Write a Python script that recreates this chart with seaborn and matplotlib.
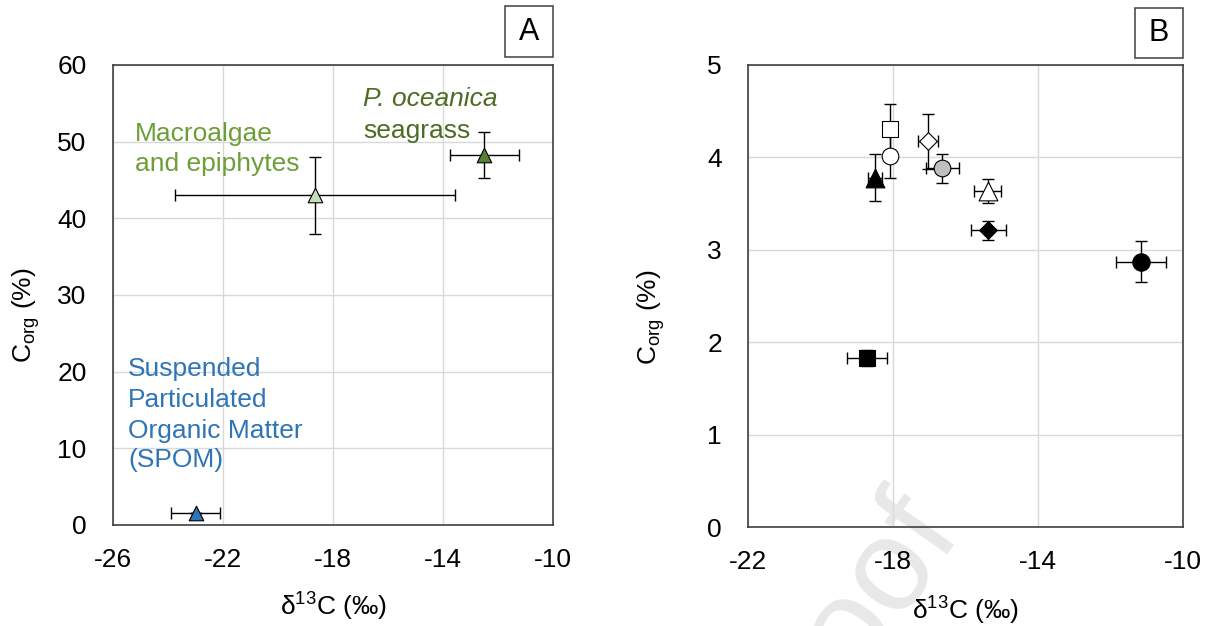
import matplotlib
matplotlib.use("Agg")
import matplotlib.pyplot as plt
from matplotlib.patches import Rectangle
import seaborn as sns
import pandas as pd

# ---------------- data ----------------
# Panel A: sources
a_names = ["SPOM", "Macroalgae and epiphytes", "P. oceanica seagrass"]
a_d13c = [-23.0, -18.65, -12.5]
a_d13c_err = [0.9, 5.1, 1.25]
a_corg = [1.6, 43.0, 48.3]
a_corg_err = [0.0, 5.0, 3.0]
a_colors = ["#2E75B6", "#C5E0B4", "#548235"]

# Panel B: sediment samples
b_d13c = [-18.1, -18.1, -18.5, -17.05, -16.65, -15.4, -15.38, -11.17, -18.73]
b_d13c_err = [0.0, 0.0, 0.2, 0.28, 0.46, 0.38, 0.49, 0.68, 0.55]
b_corg = [4.31, 4.01, 3.78, 4.17, 3.88, 3.63, 3.21, 2.87, 1.83]
b_corg_err = [0.26, 0.24, 0.25, 0.30, 0.16, 0.13, 0.10, 0.22, 0.09]
b_markers = ["s", "o", "^", "D", "o", "^", "D", "o", "s"]
b_faces = ["white", "white", "black", "white", "#BFBFBF", "white", "black", "black", "black"]
b_sizes = [11.5, 12, 13.5, 9.0, 12, 13.5, 9.0, 12.5, 11.5]

a_xticks = [-26, -22, -18, -14, -10]
a_yticks = [0, 10, 20, 30, 40, 50, 60]
b_xticks = [-22, -18, -14, -10]
b_yticks = [0, 1, 2, 3, 4, 5]

# ---------------- style ----------------
sns.set_theme(style="whitegrid")
plt.rcParams["font.family"] = ["Liberation Sans", "DejaVu Sans"]
plt.rcParams["mathtext.default"] = "regular"

W, H = 1212, 626
fig = plt.figure(figsize=(W / 100, H / 100), dpi=100)
fig.patch.set_facecolor("white")

def fx(px):
    return px / W

def fy(py):
    return 1 - py / H

axA = fig.add_axes([fx(113), fy(525), fx(553) - fx(113), fy(65) - fy(525)])
axB = fig.add_axes([fx(748.3), fy(527.3), fx(1183.3) - fx(748.3), fy(64.7) - fy(527.3)])

FS = 19
for ax in (axA, axB):
    ax.set_facecolor("none")
    ax.grid(True, color="#D9D9D9", linewidth=1.0)
    ax.set_axisbelow(True)
    for sp in ax.spines.values():
        sp.set_color("#404040")
        sp.set_linewidth(1.2)
    ax.tick_params(axis="both", length=0, labelsize=FS, colors="black")
    ax.tick_params(axis="y", pad=19)
    ax.tick_params(axis="x", pad=16.5)

# ---------------- panel A ----------------
for i in range(len(a_names)):
    axA.errorbar(a_d13c[i], a_corg[i], xerr=a_d13c_err[i], yerr=a_corg_err[i],
                 fmt="none", ecolor="black", elinewidth=1.0, capsize=4.5,
                 capthick=1.0, zorder=2)
    df = pd.DataFrame({"x": [a_d13c[i]], "y": [a_corg[i]]})
    sns.scatterplot(data=df, x="x", y="y", ax=axA, marker="^", s=10.5 ** 2,
                    color=a_colors[i], edgecolor="black", linewidth=0.8,
                    zorder=3, legend=False)

axA.set_xlim(-26, -10)
axA.set_ylim(0, 60)
axA.set_xticks(a_xticks)
axA.set_yticks(a_yticks)
axA.set_xticklabels([str(t) for t in a_xticks])
axA.set_yticklabels([str(t) for t in a_yticks])

# annotations (panel A)
green_light = "#6E9E38"
green_dark = "#4E6B23"
blue = "#2E75B6"
axA.text(-25.2, 50.1, "Macroalgae", color=green_light, fontsize=FS, va="baseline", ha="left")
axA.text(-25.2, 46.2, "and epiphytes", color=green_light, fontsize=FS, va="baseline", ha="left")
axA.text(-16.9, 54.6, "P. oceanica", color=green_dark, fontsize=FS, va="baseline", ha="left",
         style="italic")
axA.text(-16.9, 50.5, "seagrass", color=green_dark, fontsize=FS, va="baseline", ha="left")
spom_lines = ["Suspended", "Particulated", "Organic Matter", "(SPOM)"]
spom_y = [19.4, 15.4, 11.4, 7.5]
for t, yv in zip(spom_lines, spom_y):
    axA.text(-25.45, yv, t, color=blue, fontsize=FS, va="baseline", ha="left")

# ---------------- panel B ----------------
for i in range(len(b_d13c)):
    axB.errorbar(b_d13c[i], b_corg[i],
                 xerr=b_d13c_err[i] if b_d13c_err[i] > 0 else None,
                 yerr=b_corg_err[i], fmt="none", ecolor="black",
                 elinewidth=1.0, capsize=4.5, capthick=1.0, zorder=2)
    df = pd.DataFrame({"x": [b_d13c[i]], "y": [b_corg[i]]})
    sns.scatterplot(data=df, x="x", y="y", ax=axB, marker=b_markers[i],
                    s=b_sizes[i] ** 2, color=b_faces[i], edgecolor="black",
                    linewidth=0.8, zorder=3, legend=False)

axB.set_xlim(-22, -10)
axB.set_ylim(0, 5)
axB.set_xticks(b_xticks)
axB.set_yticks(b_yticks)
axB.set_xticklabels([str(t) for t in b_xticks])
axB.set_yticklabels([str(t) for t in b_yticks])

# ---------------- axis labels ----------------
for ax, ylx, xly in ((axA, -0.161, -0.143), (axB, -0.187, -0.146)):
    ax.set_xlabel("δ$^{13}$C (‰)", fontsize=FS, color="black")
    ax.set_ylabel("C$_{org}$ (%)", fontsize=FS, color="black")
    ax.yaxis.set_label_coords(ylx, 0.455)
    ax.xaxis.set_label_coords(0.5, xly)

# ---------------- panel letters ----------------
for (x0, y0, x1, y1, letter) in ((505, 6, 553, 57, "A"), (1135, 8, 1183, 58, "B")):
    fig.patches.append(Rectangle((fx(x0), fy(y1)), fx(x1) - fx(x0), fy(y0) - fy(y1),
                                 transform=fig.transFigure, facecolor="white",
                                 edgecolor="#404040", linewidth=1.1))
    fig.text(fx((x0 + x1) / 2), fy((y0 + y1) / 2), letter, fontsize=22,
             ha="center", va="center", color="black")

# faint watermark fragment
fig.text(fx(880), fy(470), "Pre-proof", fontsize=95, color="#E8E8E8",
         rotation=55, rotation_mode="anchor", ha="right", va="top", zorder=-1)

fig.savefig("out.png", dpi=100, facecolor="white")
